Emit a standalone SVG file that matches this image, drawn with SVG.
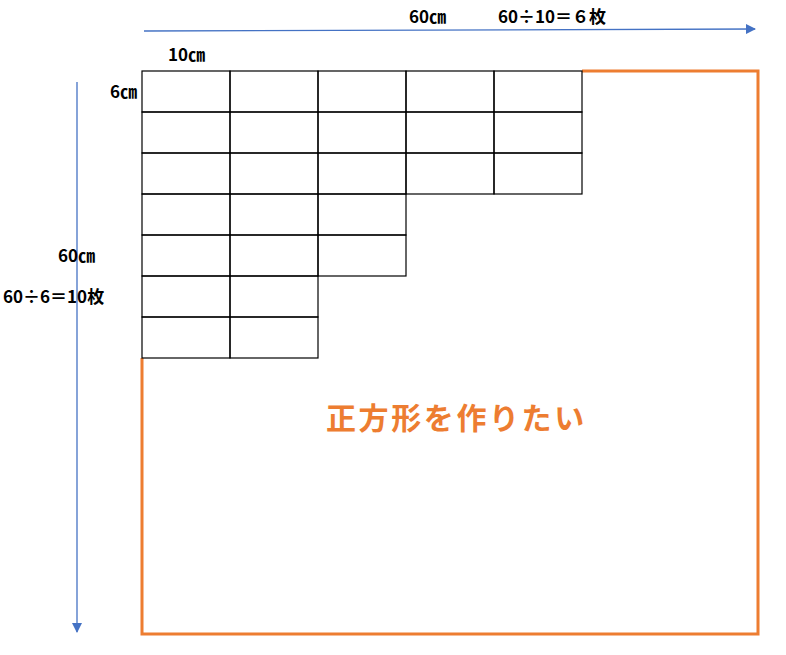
<svg xmlns="http://www.w3.org/2000/svg" width="786" height="655" viewBox="0 0 786 655">
<style>
.t{font-family:"Noto Sans CJK JP","Noto Sans",sans-serif;font-size:17px;font-weight:bold;fill:#000}
.cell{fill:none;stroke:#000;stroke-width:1.2}
.axis{stroke:#4472C4;stroke-width:1.3;fill:none}
</style>
<defs>
<marker id="ah" viewBox="0 0 10 10" refX="9" refY="5" markerWidth="10" markerHeight="10" markerUnits="userSpaceOnUse" orient="auto">
<path d="M0,0 L10,5 L0,10 Z" fill="#4472C4"/>
</marker>
</defs>
<rect width="786" height="655" fill="#fff"/>
<g id="connectors">
<line class="axis" x1="144" y1="31" x2="755" y2="29" marker-end="url(#ah)"/>
<line class="axis" x1="77" y1="82" x2="77" y2="632" marker-end="url(#ah)"/>
</g>
<g id="square">
<polyline points="582,71 758,71 758,634 142,634 142,358" fill="none" stroke="#ED7D31" stroke-width="3"/>
</g>
<g id="grid">
<rect class="cell" x="142" y="71" width="88" height="41"/>
<rect class="cell" x="230" y="71" width="88" height="41"/>
<rect class="cell" x="318" y="71" width="88" height="41"/>
<rect class="cell" x="406" y="71" width="88" height="41"/>
<rect class="cell" x="494" y="71" width="88" height="41"/>
<rect class="cell" x="142" y="112" width="88" height="41"/>
<rect class="cell" x="230" y="112" width="88" height="41"/>
<rect class="cell" x="318" y="112" width="88" height="41"/>
<rect class="cell" x="406" y="112" width="88" height="41"/>
<rect class="cell" x="494" y="112" width="88" height="41"/>
<rect class="cell" x="142" y="153" width="88" height="41"/>
<rect class="cell" x="230" y="153" width="88" height="41"/>
<rect class="cell" x="318" y="153" width="88" height="41"/>
<rect class="cell" x="406" y="153" width="88" height="41"/>
<rect class="cell" x="494" y="153" width="88" height="41"/>
<rect class="cell" x="142" y="194" width="88" height="41"/>
<rect class="cell" x="230" y="194" width="88" height="41"/>
<rect class="cell" x="318" y="194" width="88" height="41"/>
<rect class="cell" x="142" y="235" width="88" height="41"/>
<rect class="cell" x="230" y="235" width="88" height="41"/>
<rect class="cell" x="318" y="235" width="88" height="41"/>
<rect class="cell" x="142" y="276" width="88" height="41"/>
<rect class="cell" x="230" y="276" width="88" height="41"/>
<rect class="cell" x="142" y="317" width="88" height="41"/>
<rect class="cell" x="230" y="317" width="88" height="41"/>
</g>
<g id="labels">
<text class="t" x="409" y="23">60㎝</text>
<text class="t" x="498" y="23">60÷10＝６枚</text>
<text class="t" x="168" y="61">10㎝</text>
<text class="t" x="110" y="98">6㎝</text>
<text class="t" x="58" y="262">60㎝</text>
<text class="t" x="3" y="303">60÷6＝10枚</text>
<text x="326" y="429" style="font-family:'Noto Sans CJK JP',sans-serif;font-size:30px;font-weight:bold;letter-spacing:2.6px;fill:#ED7D31">正方形を作りたい</text>
</g>
</svg>
